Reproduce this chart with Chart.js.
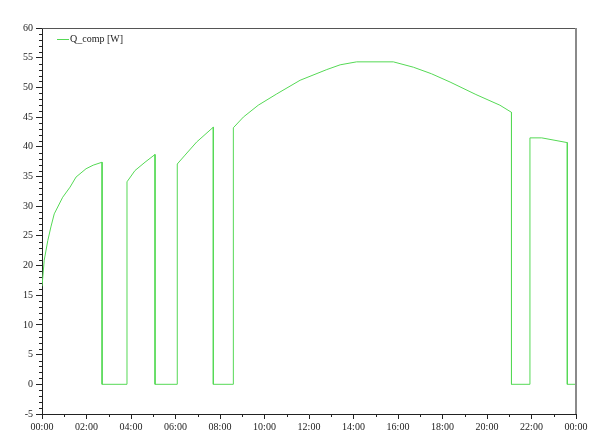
<!DOCTYPE html>
<html>
<head>
<meta charset="utf-8">
<script src="https://cdn.jsdelivr.net/npm/chart.js@4/dist/chart.umd.min.js"></script>
<style>
  html, body { margin: 0; padding: 0; background: #fff; }
  #wrap { width: 600px; height: 440px; }
</style>
</head>
<body>
<div id="wrap"><canvas id="plot"></canvas></div>
<script>
// time of day in hours, compressor power in W (repeated hours = vertical steps)
const hours = [
  0, 0.1, 0.26, 0.4, 0.55, 0.93, 1.26, 1.53, 1.98, 2.3, 2.7,
  2.7, 3.82,
  3.82, 4.18, 4.63, 5.08,
  5.08, 6.08,
  6.08, 6.43, 6.95, 7.7,
  7.7, 8.6,
  8.6, 9.05, 9.72, 10.55, 11.6, 12.8, 13.4, 14.14, 15.79, 16.69, 17.5, 18.34, 19.5, 20.58, 21.1,
  21.1, 21.93,
  21.93, 22.46, 23.61,
  23.61, 24
];
const qComp = [
  16.5, 20.9, 24.2, 26.5, 28.7, 31.5, 33.2, 34.9, 36.3, 36.9, 37.4,
  0, 0,
  34.1, 36.0, 37.4, 38.7,
  0, 0,
  37.1, 38.6, 40.8, 43.3,
  0, 0,
  43.2, 45.0, 47.0, 48.9, 51.2, 53.0, 53.8, 54.3, 54.3, 53.4, 52.3, 50.9, 48.8, 47.0, 45.8,
  0, 0,
  41.5, 41.5, 40.7,
  0, 0
];
const seriesLabel = 'Q_comp [W]';
const yTicks = [-5, 0, 5, 10, 15, 20, 25, 30, 35, 40, 45, 50, 55, 60];
const xTickHours = [0, 2, 4, 6, 8, 10, 12, 14, 16, 18, 20, 22, 24];

const lineColor = '#55d955';
const font = { family: '"Liberation Serif", "DejaVu Serif", serif', size: 10 };

const points = hours.map((h, i) => ({ x: h, y: qComp[i] }));

// minor ticks, frame and the in-plot legend
const frame = {
  id: 'frame',
  afterDraw(chart) {
    const c = chart.ctx, a = chart.chartArea;
    const xs = chart.scales.x, ys = chart.scales.y;
    c.save();
    c.strokeStyle = '#222';
    c.lineWidth = 1;
    c.beginPath();
    for (let v = -5; v <= 60; v++) {
      if (v % 5 === 0) continue;
      const y = Math.round(ys.getPixelForValue(v)) + 0.5;
      c.moveTo(a.left - 3, y); c.lineTo(a.left, y);
    }
    for (let h = 1; h < 24; h += 2) {
      const x = Math.round(xs.getPixelForValue(h)) + 0.5;
      c.moveTo(x, a.bottom); c.lineTo(x, a.bottom + 3);
    }
    c.stroke();
    c.strokeStyle = '#555';
    c.beginPath();
    c.moveTo(a.left, a.top + 0.5); c.lineTo(a.right, a.top + 0.5);
    c.stroke();
    c.strokeStyle = '#8a8a8a';
    c.lineWidth = 2;
    c.beginPath();
    c.moveTo(a.right, a.top); c.lineTo(a.right, a.bottom);
    c.stroke();
    // legend
    c.strokeStyle = lineColor;
    c.lineWidth = 1;
    c.beginPath();
    c.moveTo(a.left + 15, a.top + 11.5); c.lineTo(a.left + 27, a.top + 11.5);
    c.stroke();
    c.fillStyle = '#222';
    c.font = font.size + 'px ' + font.family;
    c.textBaseline = 'middle';
    c.fillText(seriesLabel, a.left + 28, a.top + 11);
    c.restore();
  }
};

new Chart(document.getElementById('plot'), {
  type: 'line',
  data: {
    datasets: [{
      label: seriesLabel,
      data: points,
      borderColor: lineColor,
      borderWidth: 1,
      pointRadius: 0,
      tension: 0,
      fill: false
    }]
  },
  options: {
    responsive: true,
    maintainAspectRatio: false,
    animation: false,
    layout: { padding: { top: 28, right: 24, left: 0, bottom: 0 } },
    plugins: { legend: { display: false }, tooltip: { enabled: false } },
    scales: {
      x: {
        type: 'linear',
        min: 0, max: 24,
        afterBuildTicks: s => { s.ticks = xTickHours.map(v => ({ value: v })); },
        afterFit: s => { s.height = 26; },
        ticks: {
          font, color: '#222', padding: 2, maxRotation: 0, autoSkip: false,
          callback: v => String(v % 24).padStart(2, '0') + ':00'
        },
        grid: { drawOnChartArea: false, tickLength: 5, color: '#222' },
        border: { color: '#222' }
      },
      y: {
        type: 'linear',
        min: -5, max: 60,
        afterBuildTicks: s => { s.ticks = yTicks.map(v => ({ value: v })); },
        afterFit: s => { s.width = 42; },
        ticks: { font, color: '#222', padding: 3 },
        grid: { drawOnChartArea: false, tickLength: 6, color: '#222' },
        border: { color: '#222' }
      }
    }
  },
  plugins: [frame]
});
</script>
</body>
</html>
